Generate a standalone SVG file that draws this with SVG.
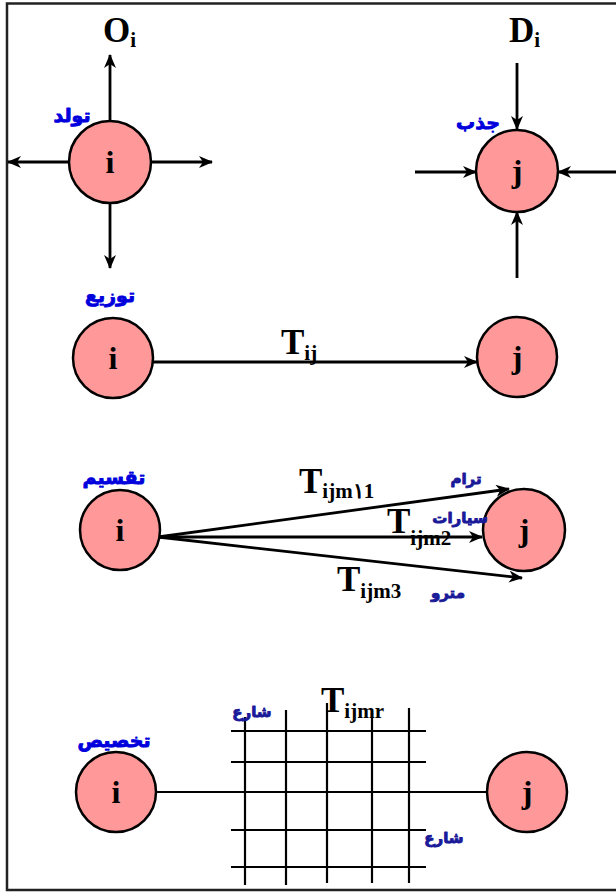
<svg xmlns="http://www.w3.org/2000/svg" width="616" height="893" viewBox="0 0 616 893">
<style>
.node{fill:#ff9999;stroke:#000;stroke-width:2.5}
.lbl{font-family:"Liberation Serif","Times New Roman",serif;font-weight:bold;fill:#000}
.nl{font-size:32px}
.big{font-size:35px}
.sub{font-size:21px}
.ar{font-family:"DejaVu Sans",sans-serif;font-weight:bold;text-anchor:middle;stroke-width:0.9;stroke-linejoin:round}
.arA{fill:#0000dd;stroke:#0000dd;font-size:19px}
.arB{fill:#1a1a99;stroke:#1a1a99;font-size:15px}
.con{stroke:#000;stroke-width:2.8;fill:none}
.thin{stroke:#000;stroke-width:2.2;fill:none}
</style>
<defs>
<marker id="ah" viewBox="0 0 14 12" refX="13" refY="6" markerWidth="14" markerHeight="12" markerUnits="userSpaceOnUse" orient="auto">
<path d="M0,0 L14,6 L0,12 L4,6 z" fill="#000"/>
</marker>
</defs>
<path d="M616,3.5 H7 V890 H616" fill="none" stroke="#222" stroke-width="2.5"/>

<g id="connectors">
<line class="con" x1="110" y1="121" x2="110" y2="55" marker-end="url(#ah)"/>
<line class="con" x1="69" y1="162" x2="8" y2="162" marker-end="url(#ah)"/>
<line class="con" x1="151" y1="162" x2="212" y2="162" marker-end="url(#ah)"/>
<line class="con" x1="110" y1="203" x2="110" y2="268" marker-end="url(#ah)"/>
<line class="con" x1="517" y1="63" x2="517" y2="129" marker-end="url(#ah)"/>
<line class="con" x1="415" y1="172" x2="476" y2="172" marker-end="url(#ah)"/>
<line class="con" x1="616" y1="172" x2="558" y2="172" marker-end="url(#ah)"/>
<line class="con" x1="517" y1="278" x2="517" y2="212" marker-end="url(#ah)"/>
<line class="con" x1="153" y1="362" x2="477" y2="362" marker-end="url(#ah)"/>
<line class="con" x1="158" y1="537" x2="509" y2="489" marker-end="url(#ah)"/>
<line class="con" x1="158" y1="537" x2="482" y2="537" marker-end="url(#ah)"/>
<line class="con" x1="158" y1="537" x2="522" y2="578" marker-end="url(#ah)"/>
<line class="thin" x1="156" y1="792" x2="487" y2="792"/>
</g>

<g id="grid" class="thin">
<line x1="245" y1="717" x2="245" y2="885"/>
<line x1="286" y1="710" x2="286" y2="885"/>
<line x1="327" y1="703" x2="327" y2="883"/>
<line x1="372" y1="713" x2="372" y2="883"/>
<line x1="409" y1="708" x2="409" y2="883"/>
<line x1="231" y1="731" x2="426" y2="731"/>
<line x1="231" y1="762" x2="426" y2="762"/>
<line x1="231" y1="792" x2="426" y2="792"/>
<line x1="231" y1="830" x2="426" y2="830"/>
<line x1="231" y1="867" x2="426" y2="867"/>
</g>

<g id="node-i1">
<circle class="node" cx="110" cy="162" r="41"/>
<text class="lbl nl" x="110" y="173" text-anchor="middle">i</text>
</g>
<g id="node-j1">
<circle class="node" cx="517" cy="171" r="41"/>
<text class="lbl nl" x="517" y="182" text-anchor="middle">j</text>
</g>
<g id="node-i2">
<circle class="node" cx="113" cy="358" r="40"/>
<text class="lbl nl" x="113" y="369" text-anchor="middle">i</text>
</g>
<g id="node-j2">
<circle class="node" cx="517" cy="357" r="40"/>
<text class="lbl nl" x="517" y="368" text-anchor="middle">j</text>
</g>
<g id="node-i3">
<circle class="node" cx="120" cy="530" r="40"/>
<text class="lbl nl" x="120" y="541" text-anchor="middle">i</text>
</g>
<g id="node-j3">
<circle class="node" cx="524" cy="530" r="41"/>
<text class="lbl nl" x="524" y="541" text-anchor="middle">j</text>
</g>
<g id="node-i4">
<circle class="node" cx="116" cy="792" r="40"/>
<text class="lbl nl" x="116" y="803" text-anchor="middle">i</text>
</g>
<g id="node-j4">
<circle class="node" cx="527" cy="792" r="40"/>
<text class="lbl nl" x="527" y="803" text-anchor="middle">j</text>
</g>

<g id="labels">
<text class="lbl" x="103" y="42"><tspan class="big">O</tspan><tspan class="sub" dy="5">i</tspan></text>
<text class="lbl" x="509" y="42"><tspan class="big">D</tspan><tspan class="sub" dy="5">i</tspan></text>
<text class="lbl" x="281" y="354"><tspan class="big">T</tspan><tspan class="sub" dy="6">ij</tspan></text>
<text class="lbl" x="299" y="493"><tspan class="big">T</tspan><tspan class="sub" dy="5">ijm١1</tspan></text>
<text class="lbl" x="387" y="533"><tspan class="big">T</tspan><tspan class="sub" dy="12">ijm2</tspan></text>
<text class="lbl" x="337" y="591"><tspan class="big">T</tspan><tspan class="sub" dy="7">ijm3</tspan></text>
<text class="lbl" x="321" y="712"><tspan class="big">T</tspan><tspan class="sub" dy="6">ijmr</tspan></text>

<text class="ar arA" x="72" y="122">تولد</text>
<text class="ar arA" x="110" y="302">توزيع</text>
<text class="ar arA" x="478" y="129">جذب</text>
<text class="ar arA" x="114" y="484">تقسيم</text>
<text class="ar arA" x="114" y="747">تخصيص</text>
<text class="ar arB" x="466" y="484">ترام</text>
<text class="ar arB" x="460" y="523">سيارات</text>
<text class="ar arB" x="448" y="598">مترو</text>
<text class="ar arB" x="252" y="717">شارع</text>
<text class="ar arB" x="444" y="843">شارع</text>
</g>
</svg>
